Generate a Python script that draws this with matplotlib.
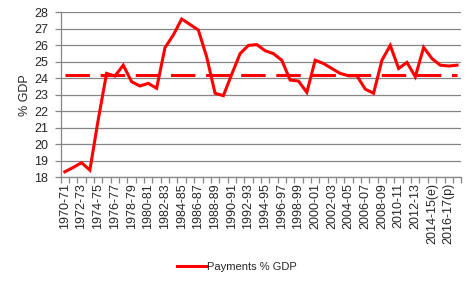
import matplotlib
matplotlib.use("Agg")
from matplotlib import pyplot as plt
from matplotlib import rcParams
import numpy as np

# years on the x axis (one category per financial year)
years = ['1970-71', '1971-72', '1972-73', '1973-74', '1974-75', '1975-76', '1976-77', '1977-78',
         '1978-79', '1979-80', '1980-81', '1981-82', '1982-83', '1983-84', '1984-85', '1985-86',
         '1986-87', '1987-88', '1988-89', '1989-90', '1990-91', '1991-92', '1992-93', '1993-94',
         '1994-95', '1995-96', '1996-97', '1997-98', '1998-99', '1999-00', '2000-01', '2001-02',
         '2002-03', '2003-04', '2004-05', '2005-06', '2006-07', '2007-08', '2008-09', '2009-10',
         '2010-11', '2011-12', '2012-13', '2013-14', '2014-15(e)', '2015-16(e)', '2016-17(p)', '2017-18(p)']

payments = [18.34, 18.6, 18.89, 18.44, 21.5, 24.3, 24.14, 24.8,
            23.8, 23.54, 23.7, 23.4, 25.86, 26.63, 27.6, 27.27,
            26.93, 25.3, 23.1, 22.95, 24.25, 25.5, 26.0, 26.05,
            25.68, 25.5, 25.1, 23.9, 23.84, 23.15, 25.1, 24.9,
            24.6, 24.3, 24.16, 24.16, 23.35, 23.1, 25.1, 26.0,
            24.6, 24.97, 24.1, 25.88, 25.2, 24.8, 24.75, 24.8]

average = [24.2] * len(years)

rcParams['font.family'] = 'Liberation Sans'
rcParams['font.size'] = 9

grid_col = '#868686'
text_col = '#262626'
red = '#ff0000'

fig = plt.figure(figsize=(4.74, 2.82), dpi=100)
ax = fig.add_axes([0.128, 0.371, 0.845, 0.585])

x = np.arange(len(years))
ax.plot(x, payments, color=red, lw=2.2, solid_joinstyle='miter', label='Payments % GDP', zorder=3)
ax.plot(x, average, color=red, lw=2.2, linestyle=(0, (8, 3.5)), dash_capstyle='butt', zorder=2)

ax.set_xlim(-0.5, len(years) - 0.5)
ax.set_ylim(18, 28)
ax.set_yticks(range(18, 29))
ax.yaxis.grid(True, color=grid_col, lw=0.9)
ax.set_axisbelow(True)

# tick marks between categories, labels on every second category
ax.set_xticks(np.arange(-0.5, len(years), 1.0))
ax.set_xticklabels([])
ax.set_xticks(x[::2], minor=True)
ax.set_xticklabels(years[::2], minor=True, rotation=90)
ax.tick_params(axis='x', which='major', length=4, color=grid_col, width=0.9)
ax.tick_params(axis='x', which='minor', length=0, pad=4, labelsize=9, labelcolor=text_col)
ax.tick_params(axis='y', length=4, color=grid_col, width=0.9, labelsize=9, pad=5, labelcolor=text_col)

for s in ['top', 'right']:
    ax.spines[s].set_visible(False)
for s in ['left', 'bottom']:
    ax.spines[s].set_color(grid_col)
    ax.spines[s].set_linewidth(0.9)

ax.set_ylabel('% GDP', fontsize=9, labelpad=2, color=text_col)

leg = fig.legend(loc='center', bbox_to_anchor=(0.5, 0.053), frameon=False, fontsize=8,
                 handlelength=2.6, handletextpad=0.1)
for t in leg.get_texts():
    t.set_color(text_col)

plt.savefig('out.png', dpi=100)
